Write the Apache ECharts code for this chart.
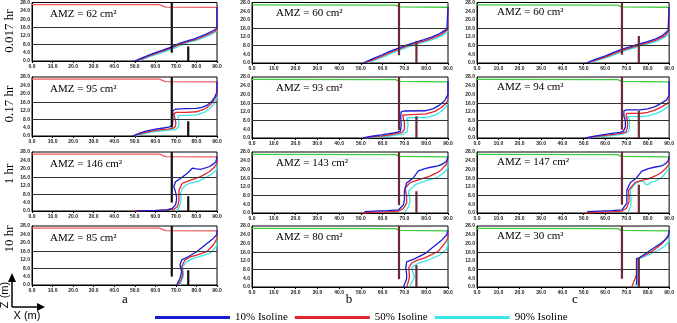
<!DOCTYPE html>
<html><head><meta charset="utf-8">
<script src="https://cdn.jsdelivr.net/npm/echarts@6/dist/echarts.min.js"></script>
<style>html,body{margin:0;padding:0;background:#fff}#c{width:677px;height:323px}</style>
</head><body><div id="c"></div>
<script>
// ---------- DATA ----------
const rowLabels = ['0.017 hr', '0.17 hr', '1 hr', '10 hr'];
const colLabels = ['a', 'b', 'c'];
const amzValues = [[62, 60, 60], [95, 93, 94], [146, 143, 147], [85, 80, 30]];
const seriesNames = ['10% Isoline', '50% Isoline', '90% Isoline'];
const xTickValues = [0, 10, 20, 30, 40, 50, 60, 70, 80, 90];
const zTickValues = [0, 4, 8, 12, 16, 20, 24, 28];
const layerLines = [8, 16];

// water table (top line)
const waterA = [[0, 27], [62, 27], [65, 25.8], [90, 25.7]];
const waterBC = [[0, 26.9], [66, 26.8], [67.5, 26], [90, 25.8]];
// cut-off wall (from top) and subsurface dam (from bottom), per column
const tallWallX = [68, 67.5, 67.9];
const tallWallBottom = [4, 3.6, 3.8];
const damX = [76, 75.5, 75.8];
const damTop = [[7, 10, 12.5], [7, 10, 12.5], [7, 10, 13], [7, 10, 13]]; // [row][col]

// ----- isolines: row 1 (0.017 hr) -----
const blue_a1 = [[50,0],[53,1.3],[56,2.5],[59,3.6],[64,5.3],[68,6.8],[72,8.6],[76,9.8],[79,10.6],[82,11.8],[85,13],[88,14.5],[90,15.7],[90,26]];
const red_a1  = [[51,0],[54,1.3],[57,2.4],[60,3.5],[65,5.2],[69,6.7],[73,8.4],[77,9.6],[80,10.4],[83,11.6],[86,12.8],[88.5,14],[90,15],[90,26]];
const cyan_a1 = [[52,0],[55,1.2],[58,2.3],[61,3.3],[66,5],[70,6.5],[74,8.2],[78,9.4],[81,10.2],[84,11.4],[87,12.6],[89,13.8],[90,14.5],[90,26]];
const blue_b1 = [[51,0],[55,1.8],[59.5,3.7],[63,5.3],[67,6.8],[71,8.3],[75.5,9.8],[79,10.8],[82.5,12],[86,13.5],[89.5,15.7],[90,16.5],[90,26]];
const red_b1  = [[52,0],[56,1.7],[60.5,3.5],[64,5.1],[68,6.6],[72,8.1],[76.5,9.5],[80,10.5],[83.5,11.7],[87,13.2],[90,15.5],[90,26]];
const cyan_b1 = [[53,0],[57,1.6],[61.5,3.3],[65,4.9],[69,6.4],[73,7.9],[77.5,9.2],[81,10.2],[84.5,11.4],[88,13],[90,14.6],[90,26]];
const blue_c1 = [[51.2,0],[55,1.6],[60.2,3.3],[64,4.9],[67.9,6.4],[72,7.6],[75.6,8.7],[79.5,9.8],[83.4,11],[87,12.8],[89.5,15],[90,15.6],[90,26]];
const red_c1  = [[52,0],[56,1.5],[61,3.1],[65,4.7],[68.8,6.1],[73,7.4],[76.5,8.4],[80.5,9.5],[84.4,10.8],[88,12.7],[90,14.8],[90,26]];
const cyan_c1 = [[53,0],[57,1.4],[62,2.9],[66,4.5],[69.8,5.9],[74,7.1],[77.5,8.1],[81.5,9.2],[85.4,10.5],[88.5,12.3],[90,14],[90,26]];

// ----- row 2 (0.17 hr) -----
const blue_a2 = [[49,0],[52,1.2],[55,2.2],[60,3.3],[64,3.8],[66.5,4.2],[68.3,5],[68.5,8],[68.5,12],[70,12.8],[75,13],[80,13.1],[83,13.7],[85.5,14.8],[87.5,16.5],[89,18.6],[90,21],[90,26]];
const red_a2  = [[49.5,0],[53,1.1],[57,2.1],[62,2.9],[66,3.3],[68.5,3.6],[69.8,4.5],[70,6.5],[69.5,8.5],[69,10.5],[70,11.2],[75,11.2],[80,11.5],[83.5,12.6],[86.5,14.5],[88.5,17],[90,19.5],[90,26]];
const cyan_a2 = [[50,0],[54,0.9],[58,1.8],[63,2.5],[67,2.8],[70,3.2],[71.3,4.5],[71.5,7],[71,9],[72,9.8],[76,9.8],[80,10],[84,11.3],[87,13.5],[89,16],[90,18],[90,26]];
const blue_b2 = [[51,0],[55,0.8],[59.5,1.4],[63,2],[66.4,2.6],[68.2,3.2],[68.5,6],[68.3,10],[68.5,12],[70,12.4],[79.4,12.5],[83,13.4],[86,15],[88.5,17.2],[89.5,19],[90,20],[90,26]];
const red_b2  = [[51.5,0],[56,0.6],[60,1],[64,1.6],[67,2.1],[69,2.6],[70,4],[70,7],[69.5,9],[69.2,10.5],[70,11],[80,11.1],[84,12.2],[87,14],[89,15.8],[90,17.4],[90,26]];
const cyan_b2 = [[52,0],[57,0.4],[62,0.8],[66,1.3],[69.5,1.8],[71.3,3],[71.6,6],[71.5,8],[71,9],[72,9.3],[80,9.4],[84,10.5],[87,12.3],[89,14.3],[90,16],[90,26]];
const blue_c2 = [[50.9,0],[55,0.9],[60.2,1.7],[64,2.2],[67.1,2.6],[68.6,3.2],[69.5,5],[69.5,8],[68.8,10],[68.8,12.5],[70,12.9],[76.3,12.9],[80,13.4],[83.4,14.4],[86,15.8],[88.7,17.4],[90,19.5],[90,26]];
const red_c2  = [[51.5,0],[56,0.7],[61,1.3],[65,1.8],[68,2.2],[69.8,2.8],[70.5,5],[70.5,8],[69.8,10],[70,11.3],[76.5,11.3],[80,11.8],[83.5,12.9],[86.5,14.3],[89,15.8],[90,16.5],[90,26]];
const cyan_c2 = [[52,0],[57,0.5],[62,1],[68,1.7],[71,2.9],[71.5,5],[71.3,8.7],[70.3,9.8],[77,9.8],[80,10.2],[84,11.3],[87,12.6],[89.5,14.4],[90,15],[90,26]];

// ----- row 3 (1 hr) -----
const blue_a3 = [[51,0],[55,0.2],[60,0.3],[65.7,0.5],[68.2,1.3],[69.8,2.8],[70.3,5],[70.3,6.8],[69.8,9.2],[69,11.5],[69.8,13.9],[72.3,15.5],[75.6,17.9],[78,20.3],[80,20],[82,19.8],[86.2,21],[88.5,22.5],[89.5,23.4],[90,24],[90,26]];
const red_a3  = [[50,0],[56,0.2],[62,0.3],[66,0.5],[69,0.9],[70.8,2],[71.5,5.2],[71.5,7.5],[71.5,9.9],[73.1,13.1],[77.2,14.7],[82,16.3],[86.2,18.6],[88.5,20.5],[90,22.6],[90,26]];
const cyan_a3 = [[70,0],[71.5,1.5],[72.3,4],[72.5,6],[72.3,8.4],[73,10.5],[74.7,12.3],[77,13.3],[80.5,13.9],[85.4,16.3],[88,18],[90,19.7],[90,26]];
const blue_b3 = [[51.6,0.6],[56,0.9],[62,1.1],[67.2,1.4],[69.5,3.7],[70,6],[70,10],[71,13.8],[74,16],[76.4,19.3],[79.4,20.4],[82,21],[85.5,21.6],[88,22.8],[89.4,23.9],[90,24.5],[90,26]];
const red_b3  = [[51,0],[57,0.4],[63,0.6],[67,0.8],[69.5,2],[71,4.5],[71,7.5],[70.3,11.5],[72.6,13.9],[77.1,15.4],[81.7,16.9],[85,18.5],[87.1,20],[89.4,22.5],[90,23],[90,26]];
const cyan_b3 = [[70.3,0.6],[72,3],[72.6,6],[72.2,8],[71.8,10],[74.9,13],[79.4,14.6],[84.8,16.2],[87.5,18],[89.5,20],[90,21],[90,26]];
const blue_c3 = [[51.6,0.6],[57,0.9],[63,1.1],[67.9,1.4],[70.2,4.5],[70.2,10.5],[71.8,13.9],[74.8,16.2],[77.2,19.2],[80.3,20.4],[83,21],[86.4,21.6],[88.5,22.8],[89.5,23.9],[90,24.5],[90,26]];
const red_c3  = [[51,0],[58,0.4],[64,0.6],[68,0.9],[70,2.2],[71.2,5],[71.2,8],[71,10.5],[74,13.9],[77,15],[80.3,15.7],[83.5,17],[86.4,18.6],[88.5,20.5],[90,22.5],[90,26]];
const cyan_c3 = [[70.7,0.6],[72,3],[72.2,6],[71.8,10.5],[73.5,12.8],[74.8,13.9],[76.5,14.5],[77.9,14.6],[79,13.2],[80,13],[81.5,14],[83.4,14.6],[85.5,15.6],[87.2,16.9],[89.5,20],[90,21],[90,26]];

// ----- row 4 (10 hr) -----
const blue_a4 = [[70.4,0],[71.2,1.5],[72,3.2],[72.8,6.3],[72,9.5],[72.8,11.9],[76,13.4],[80.1,15.8],[84.2,19],[88.2,22.1],[90,24],[90,26]];
const red_a4  = [[71.2,0],[72.5,2.5],[73.3,4.7],[72.8,8.7],[74.4,11.9],[77,13.3],[80.1,14.2],[85,15.8],[88.2,19],[90,22],[90,26]];
const cyan_a4 = [[72,0],[73,2.5],[73.8,4.7],[73.3,8.7],[75.3,11],[78,12.5],[80.9,13.4],[86.6,15],[89.6,18.2],[90,20],[90,26]];
const blue_b4 = [[69.5,0],[70.3,2],[71,3.8],[71,6],[70.6,8.4],[71,11.5],[74.8,13],[79.4,15.3],[83.2,18.4],[87.1,21.5],[89.4,24],[90,24.5],[90,26]];
const red_b4  = [[71,0],[71.8,2.5],[72.3,4.6],[72,8.9],[73.3,11],[76,12.3],[79.4,13.4],[85.5,16.4],[88.5,20],[90,22.5],[90,26]];
const cyan_b4 = [[72.3,0],[73.5,2.5],[74.6,4.6],[73.3,8.9],[76.5,11],[81,12.4],[86.3,14.7],[89.4,17.6],[90,20],[90,26]];
const blue_c4 = [[74.8,1],[74.8,13],[76,13.4],[79,15.4],[82.6,17.8],[86,20],[88,21.6],[89.5,23.5],[90,25],[90,26]];
const red_c4  = [[72.5,0],[73.5,2.5],[74.5,5],[74.7,6],[74.7,13],[76,13.3],[79,14.8],[82.6,16.7],[86.6,19.9],[89.6,23],[90,23.7],[90,26]];
const cyan_c4 = [[73.8,0],[74.5,1.5],[74.8,3],[74.8,12.8],[76,13],[79,14.2],[82.2,15.6],[85.5,17.2],[88,18.7],[90,21],[90,26]];

const isolines = [
  [[blue_a1, red_a1, cyan_a1], [blue_b1, red_b1, cyan_b1], [blue_c1, red_c1, cyan_c1]],
  [[blue_a2, red_a2, cyan_a2], [blue_b2, red_b2, cyan_b2], [blue_c2, red_c2, cyan_c2]],
  [[blue_a3, red_a3, cyan_a3], [blue_b3, red_b3, cyan_b3], [blue_c3, red_c3, cyan_c3]],
  [[blue_a4, red_a4, cyan_a4], [blue_b4, red_b4, cyan_b4], [blue_c4, red_c4, cyan_c4]]
];

// ---------- LAYOUT / STYLE ----------
const colLeft = [32, 252, 477];
const colWidth = [185, 196, 194];
const rowTop = [2, 77, 152, 226];
const colHeight = [59, 61, 61];
const isoColors = ['#1c1cd6', '#e3262b', '#3ae4ea'];
const wallColors = ['#111111', '#6d2a36', '#6d2a36'];
const waterColors = ['#f05a5a', '#3ccc3c', '#3ccc3c'];
const amzOffset = [[18, 13], [24, 12], [20, 11]];

const grids = [], xAxes = [], yAxes = [], series = [], graphics = [];
for (let r = 0; r < 4; r++) {
  for (let c = 0; c < 3; c++) {
    const i = r * 3 + c;
    grids.push({ left: colLeft[c], top: rowTop[r], width: colWidth[c], height: colHeight[c],
      show: true, borderColor: '#000', borderWidth: 1, backgroundColor: 'transparent' });
    xAxes.push({ gridIndex: i, type: 'value', min: xTickValues[0], max: xTickValues[xTickValues.length - 1],
      interval: xTickValues[1] - xTickValues[0],
      axisLine: { show: true, lineStyle: { color: '#000', width: 1 } },
      axisTick: { show: true, length: 2, lineStyle: { color: '#000' } },
      splitLine: { show: false },
      axisLabel: { fontSize: 5, margin: 3, color: '#222', fontWeight: 'bold', fontFamily: 'Liberation Sans',
        formatter: v => v.toFixed(1) } });
    yAxes.push({ gridIndex: i, type: 'value', min: zTickValues[0], max: zTickValues[zTickValues.length - 1],
      interval: zTickValues[1] - zTickValues[0],
      axisLine: { show: true, lineStyle: { color: '#000', width: 1 } },
      axisTick: { show: false },
      splitLine: { show: false },
      axisLabel: { fontSize: 5, margin: 2, color: '#222', fontWeight: 'bold', fontFamily: 'Liberation Sans',
        formatter: v => v.toFixed(1) } });

    // water table + layer lines
    series.push({ type: 'line', xAxisIndex: i, yAxisIndex: i, data: c === 0 ? waterA : waterBC,
      symbol: 'none', silent: true, lineStyle: { color: waterColors[c], width: 1.3 },
      markLine: { silent: true, symbol: 'none', label: { show: false },
        lineStyle: { color: '#333', width: 1, type: 'solid' },
        data: layerLines.map(v => ({ yAxis: v })) } });
    // isolines (cyan, red, blue order so blue is on top)
    for (let k = 2; k >= 0; k--) {
      series.push({ type: 'line', name: seriesNames[k], xAxisIndex: i, yAxisIndex: i,
        data: isolines[r][c][k], symbol: 'none', silent: true,
        lineStyle: { color: isoColors[k], width: 1.3 }, itemStyle: { color: isoColors[k] } });
    }
    // walls
    series.push({ type: 'line', xAxisIndex: i, yAxisIndex: i,
      data: [[tallWallX[c], tallWallBottom[c]], [tallWallX[c], zTickValues[zTickValues.length - 1]]],
      symbol: 'none', silent: true, lineStyle: { color: wallColors[c], width: 2.2 } });
    series.push({ type: 'line', xAxisIndex: i, yAxisIndex: i,
      data: [[damX[c], 0], [damX[c], damTop[r][c]]],
      symbol: 'none', silent: true, lineStyle: { color: wallColors[c], width: 2.2 } });

    graphics.push({ type: 'text', left: colLeft[c] + amzOffset[c][0], top: rowTop[r] + amzOffset[c][1] - 6,
      style: { text: 'AMZ = ' + amzValues[r][c] + ' cm²', fontSize: 11, fontFamily: 'Liberation Serif', fill: '#000' } });
  }
}

const rowLabelY = [31, 104, 174, 239];
rowLabels.forEach((t, r) => graphics.push({ type: 'text', x: 10, y: rowLabelY[r], rotation: Math.PI / 2,
  style: { text: t, fontSize: 13, fontFamily: 'Liberation Serif', fill: '#000', align: 'center', verticalAlign: 'middle' } }));
const colLabelX = [125, 349, 575];
colLabels.forEach((t, c) => graphics.push({ type: 'text', x: colLabelX[c], y: 300,
  style: { text: t, fontSize: 13, fontFamily: 'Liberation Serif', fill: '#000', align: 'center', verticalAlign: 'middle' } }));

// axes indicator
graphics.push(
  { type: 'line', shape: { x1: 12, y1: 307, x2: 12, y2: 280 }, style: { stroke: '#000', lineWidth: 1.5 } },
  { type: 'polygon', shape: { points: [[12, 273], [8, 282], [16, 282]] }, style: { fill: '#000' } },
  { type: 'line', shape: { x1: 12, y1: 307, x2: 38, y2: 307 }, style: { stroke: '#000', lineWidth: 1.5 } },
  { type: 'polygon', shape: { points: [[45, 307], [37, 303], [37, 311]] }, style: { fill: '#000' } },
  { type: 'text', x: 5, y: 295, rotation: Math.PI / 2,
    style: { text: 'Z (m)', fontSize: 11, fontFamily: 'Liberation Sans', fill: '#000', align: 'center', verticalAlign: 'middle' } },
  { type: 'text', x: 27, y: 316,
    style: { text: 'X (m)', fontSize: 11, fontFamily: 'Liberation Sans', fill: '#000', align: 'center', verticalAlign: 'middle' } }
);

const chart = echarts.init(document.getElementById('c'), null, { renderer: 'canvas' });
chart.setOption({
  animation: false,
  backgroundColor: '#fff',
  grid: grids, xAxis: xAxes, yAxis: yAxes, series: series, graphic: graphics,
  legend: { data: seriesNames, left: 155, top: 312, padding: 0, icon: 'rect', itemWidth: 75, itemHeight: 3, itemGap: 7,
    selectedMode: false, textStyle: { fontSize: 11, fontFamily: 'Liberation Serif', color: '#000' } }
});
</script></body></html>
